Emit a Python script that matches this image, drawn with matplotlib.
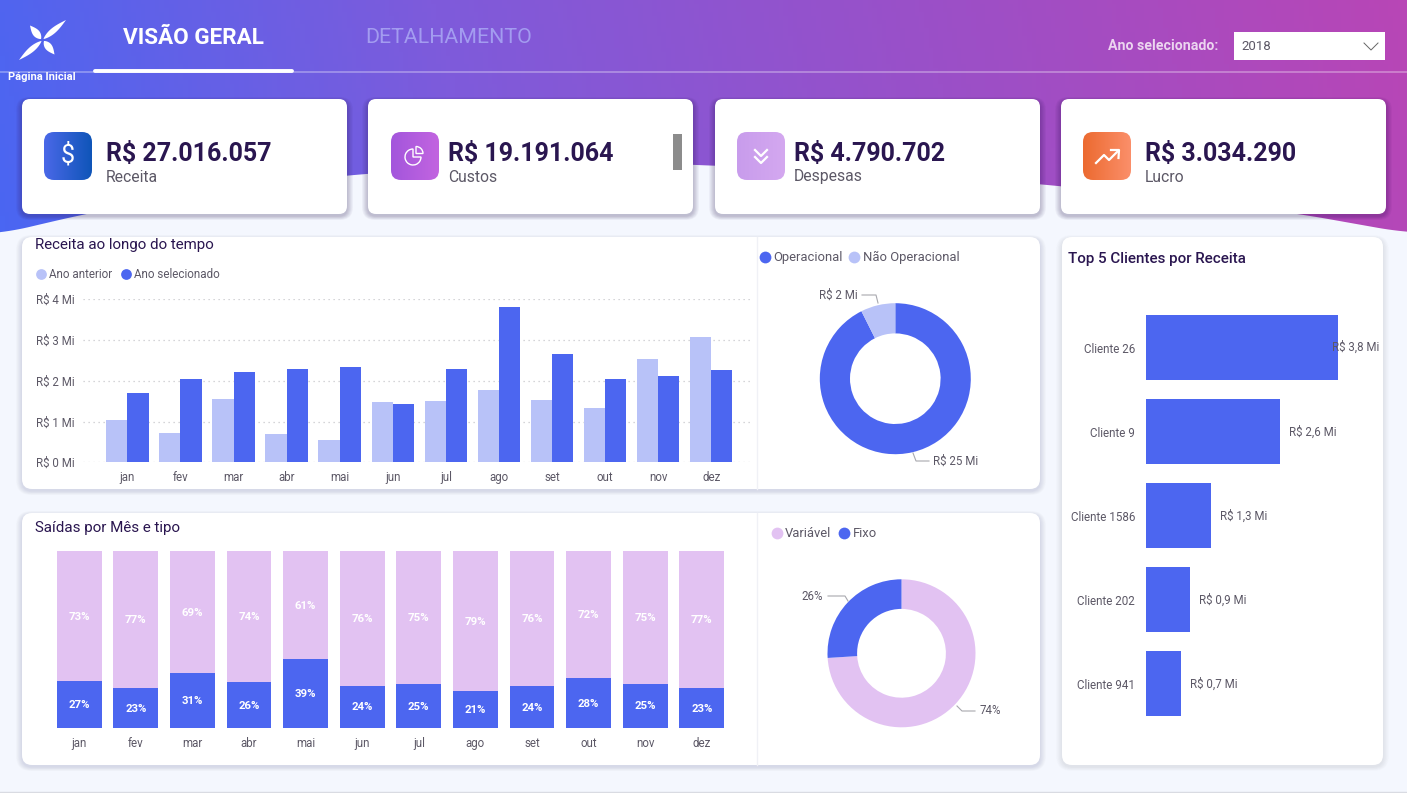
import numpy as np
import matplotlib
matplotlib.use('Agg')
import matplotlib.pyplot as plt
from matplotlib.colors import LinearSegmentedColormap
from matplotlib.patches import FancyBboxPatch, Polygon, Wedge

plt.rcParams['font.family'] = ['Roboto', 'DejaVu Sans']
plt.rcParams['ytick.alignment'] = 'center_baseline'

# Dados
meses = ['jan', 'fev', 'mar', 'abr', 'mai', 'jun', 'jul', 'ago', 'set', 'out', 'nov', 'dez']
ano_anterior = [1.04, 0.71, 1.55, 0.69, 0.54, 1.49, 1.50, 1.78, 1.53, 1.33, 2.53, 3.07]
ano_selecionado = [1.69, 2.05, 2.21, 2.30, 2.33, 1.43, 2.29, 3.82, 2.65, 2.05, 2.11, 2.26]
receita_ticks = [0, 1, 2, 3, 4]

fixo = [26.7, 22.9, 31.0, 26.1, 39.1, 24.1, 24.8, 21.0, 23.7, 28.4, 25.2, 22.6]
fixo_txt = [27, 23, 31, 26, 39, 24, 25, 21, 24, 28, 25, 23]
variavel_txt = [73, 77, 69, 74, 61, 76, 75, 79, 76, 72, 75, 77]

receita_tipo = [25, 2]
saida_tipo = [74, 26]

clientes = ['Cliente 26', 'Cliente 9', 'Cliente 1586', 'Cliente 202', 'Cliente 941']
clientes_valor = [3.80, 2.65, 1.29, 0.88, 0.70]
clientes_txt = ['R$ 3,8 Mi', 'R$ 2,6 Mi', 'R$ 1,3 Mi', 'R$ 0,9 Mi', 'R$ 0,7 Mi']

kpi_valor = ['R$ 27.016.057', 'R$ 19.191.064', 'R$ 4.790.702', 'R$ 3.034.290']
kpi_nome = ['Receita', 'Custos', 'Despesas', 'Lucro']

# Cores
AZUL = '#4c66f0'
AZUL_CLARO = '#b8c2f8'
LILAS = '#e2c2f2'
TITULO = '#2a1650'
CINZA = '#5c5866'
FUNDO = '#f4f7fe'

W, H = 1407, 793
fig = plt.figure(figsize=(W / 100, H / 100), dpi=100, facecolor=FUNDO)
bg = fig.add_axes([0, 0, 1, 1])
bg.axis('off')


def eixo(x0, y0, x1, y1):
    # eixo posicionado em pixels da imagem
    ax = fig.add_axes([x0 / W, 1 - y1 / H, (x1 - x0) / W, (y1 - y0) / H], zorder=2)
    ax.patch.set_alpha(0)
    return ax


def caixa(x0, y0, x1, y1, raio, cor, sombra=0.03, zorder=3):
    # sombra difusa feita com varias camadas
    for i in range(10, 0, -1):
        bg.add_patch(FancyBboxPatch((x0 - i * 0.6, y0 - i * 0.4 + 2), x1 - x0 + i * 1.2, y1 - y0 + i * 0.8,
                                    boxstyle=f'round,pad=0,rounding_size={raio + i * 0.5}',
                                    fc='#2a1650', ec='none', alpha=sombra, zorder=zorder))
    bg.add_patch(FancyBboxPatch((x0, y0), x1 - x0, y1 - y0, boxstyle=f'round,pad=0,rounding_size={raio}',
                                fc=cor, ec='none', zorder=zorder + 0.1))


# Fundo em degrade
gx, gy = np.meshgrid(np.linspace(0, W, 300), np.linspace(0, 240, 60))
grad = (gx + 0.25 * (240 - gy)) / (W + 60)
cmap_fundo = LinearSegmentedColormap.from_list('fundo', ['#4a66f2', '#7e5bdb', '#9a50c8', '#b846b6'])
bg.imshow(grad, extent=[0, W, 240, 0], cmap=cmap_fundo, aspect='auto', zorder=0)
bg.set_xlim(0, W)
bg.set_ylim(H, 0)

curva_x = [0, 50, 90, 200, 350, 500, 600, 700, 850, 1040, 1150, 1300, 1407]
curva_y = [234, 222, 213, 193, 175, 165, 162, 165, 172, 184, 196, 214, 233]
xs = np.linspace(0, W, 300)
ys = np.interp(xs, curva_x, curva_y)
ys = np.convolve(np.pad(ys, 6, mode='edge'), np.ones(13) / 13, mode='valid')
bg.add_patch(Polygon(np.vstack([np.c_[xs, ys], [[W, 245], [0, 245]]]), fc=FUNDO, ec='none', zorder=1))
bg.plot([0, W], [792, 792], color='#d9dbe2', lw=1, zorder=1)

# Cabecalho
bg.plot([0, W], [72, 72], color='white', alpha=0.3, lw=1.4, zorder=2)
bg.plot([95, 292], [71, 71], color='white', lw=2.8, solid_capstyle='round', zorder=2)
bg.text(123, 37.5, 'VISÃO GERAL', color='white', fontsize=16.2, fontweight='bold', va='center', zorder=4)
bg.text(365, 37.5, 'DETALHAMENTO', color='#a39cf0', fontsize=15.4, va='center', zorder=4)
bg.text(42, 77.5, 'Página Inicial', color='white', fontsize=8, fontweight='bold', ha='center', va='center', zorder=4)
bg.text(1218, 46, 'Ano selecionado:', color='#ecd5f0', fontsize=10.2, fontweight='bold', ha='right', va='center', zorder=4)
bg.add_patch(plt.Rectangle((1234, 32), 151, 28, fc='white', ec='none', zorder=3))
bg.text(1241, 46.5, '2018', color=CINZA, fontsize=9.5, va='center', zorder=4)
bg.plot([1364, 1371, 1378], [43, 50, 43], color='#666666', lw=0.7, zorder=4)


def folha(x0, y0, x1, y1, larg):
    t = np.linspace(0, 1, 30)
    esp = larg * np.sin(np.pi * t ** 0.8)
    dx, dy = x1 - x0, y1 - y0
    n = np.hypot(dx, dy)
    px, py = x0 + dx * t, y0 + dy * t
    lado1 = np.c_[px - dy / n * esp, py + dx / n * esp]
    lado2 = np.c_[px + dy / n * esp, py - dx / n * esp]
    bg.add_patch(Polygon(np.vstack([lado1, lado2[::-1]]), fc='white', ec='none', zorder=4))


folha(43.5, 39, 66, 20, 2.8)
folha(41.5, 41, 19, 60, 2.8)
folha(41, 39, 30, 25.5, 3.6)
folha(44, 41, 54.5, 54.5, 3.6)

# Cartoes KPI
cards = [(22, 347), (368, 693), (715, 1040), (1061, 1386)]
icones_x = [44, 391, 737, 1083]
texto_x = [106, 448, 794, 1145]
icones_cor = [('#4a68e8', '#0f55b8'), ('#a356dc', '#c264e0'), ('#c89cec', '#d4a8f0'), ('#ec6a30', '#fb8f6a')]
gx2 = np.linspace(0, 1, 64).reshape(1, -1)

for i in range(4):
    caixa(cards[i][0], 99, cards[i][1], 214, 8, 'white', sombra=0.028)
    x = icones_x[i]
    cm = LinearSegmentedColormap.from_list('ic', icones_cor[i])
    im = bg.imshow(gx2, extent=[x, x + 48, 180, 132], cmap=cm, aspect='auto', zorder=4)
    borda = FancyBboxPatch((x, 132), 48, 48, boxstyle='round,pad=0,rounding_size=10', fc='none', ec='none',
                           transform=bg.transData, zorder=4)
    bg.add_patch(borda)
    im.set_clip_path(borda)
    bg.text(texto_x[i], 153.5, kpi_valor[i], color=TITULO, fontsize=18, fontweight='bold', va='center', zorder=5)
    bg.text(texto_x[i], 177, kpi_nome[i], color=CINZA, fontsize=11.3, va='center', zorder=5)

bg.set_xlim(0, W)
bg.set_ylim(H, 0)

# Icones
bg.text(67.5, 155.5, '$', color='white', fontsize=18, ha='center', va='center', zorder=5)
bg.add_patch(Wedge((413, 157), 8, 0, 270, fc='none', ec='white', lw=1, zorder=5))
bg.add_patch(Wedge((416, 153.5), 7, 270, 360, fc='none', ec='white', lw=1, zorder=5))
for dy in (0, 7):
    bg.plot([755, 761, 767], [150 + dy, 156 + dy, 150 + dy], color='white', lw=1.6, zorder=5)
bg.plot([1096, 1104, 1109, 1118], [163, 155, 160, 151], color='white', lw=1.6, zorder=5)
bg.plot([1111, 1119, 1118.5], [150, 150, 158], color='white', lw=1.6, zorder=5)
bg.add_patch(plt.Rectangle((673, 134), 9, 36, fc='#8c8c8c', ec='none', zorder=5))

# Paineis
caixa(22, 237, 1040, 489, 10, 'white', sombra=0.012)
caixa(22, 513, 1040, 765, 10, 'white', sombra=0.012)
caixa(1062, 237, 1383, 765, 10, 'white', sombra=0.009)
bg.plot([757, 757], [237, 489], color='#f0f1f6', lw=1, zorder=4)
bg.plot([757, 757], [513, 765], color='#f0f1f6', lw=1, zorder=4)

bg.text(35, 245, 'Receita ao longo do tempo', color=TITULO, fontsize=10.9, va='center', zorder=5)
bg.text(35, 528, 'Saídas por Mês e tipo', color=TITULO, fontsize=10.9, va='center', zorder=5)
bg.text(1068, 259, 'Top 5 Clientes por Receita', color=TITULO, fontsize=10.9, fontweight='medium', va='center', zorder=5)


def legenda(itens, y, tam, fonte):
    for cx, tx, cor, nome in itens:
        bg.scatter([cx], [y], s=tam, color=cor, linewidths=0, zorder=5)
        bg.text(tx, y + 0.5, nome, color=CINZA, fontsize=fonte, va='center', zorder=5)


legenda([(41, 49, AZUL_CLARO, 'Ano anterior'), (126, 134, AZUL, 'Ano selecionado')], 274, 60, 8.4)
legenda([(765, 773, AZUL, 'Operacional'), (854, 863, AZUL_CLARO, 'Não Operacional')], 257, 72, 9.4)
legenda([(777, 785, LILAS, 'Variável'), (844, 853, AZUL, 'Fixo')], 533, 72, 9.4)

# Receita ao longo do tempo
ax1 = eixo(83, 299.3, 752, 462.3)
pos = np.arange(12)
ax1.bar(pos - 0.2, ano_anterior, 0.4, color=AZUL_CLARO)
ax1.bar(pos + 0.2, ano_selecionado, 0.4, color=AZUL)
ax1.set_xlim(-0.837, 11.77)
ax1.set_ylim(0, 4)
ax1.set_xticks(pos, meses)
ax1.set_yticks(receita_ticks, [f'R$ {v} Mi' for v in receita_ticks])
ax1.tick_params(length=0, labelsize=8.3, labelcolor=CINZA)
ax1.tick_params(axis='x', pad=6.5)
ax1.tick_params(axis='y', pad=6)
ax1.grid(axis='y', color='#c8c8cc', linestyle=(0, (1, 3)), linewidth=0.9)
ax1.set_axisbelow(True)
for s in ax1.spines.values():
    s.set_visible(False)

# Saidas por mes e tipo
ax2 = eixo(35, 551, 740, 728.3)
variavel = [100 - f for f in fixo]
ax2.bar(pos, fixo, 0.79, color=AZUL)
ax2.bar(pos, variavel, 0.79, bottom=fixo, color=LILAS)
for i in range(12):
    ax2.text(i, fixo[i] / 2 - 0.3, f'{fixo_txt[i]}%', color='white', fontsize=8.2, fontweight='bold', ha='center', va='center')
    ax2.text(i, fixo[i] + variavel[i] / 2 - 0.3, f'{variavel_txt[i]}%', color='white', fontsize=8.2, fontweight='bold',
             ha='center', va='center')
ax2.set_xlim((35 - 79.2) / 56.6, (740 - 79.2) / 56.6)
ax2.set_ylim(0, 100)
ax2.set_xticks(pos, meses)
ax2.set_yticks([])
ax2.tick_params(length=0, labelsize=8.3, labelcolor=CINZA, pad=6)
for s in ax2.spines.values():
    s.set_visible(False)

# Rosca receita
ax3 = eixo(895.3 - 75.5, 378.7 - 75.5, 895.3 + 75.5, 378.7 + 75.5)
ax3.pie(receita_tipo, colors=[AZUL, AZUL_CLARO], startangle=90, counterclock=False, radius=1,
        wedgeprops={'width': 0.4})
ax3.set_xlim(-1, 1)
ax3.set_ylim(-1, 1)
bg.plot([862, 876, 878], [295, 295, 303], color='#a8a8ae', lw=0.8, zorder=5)
bg.text(858, 295.5, 'R$ 2 Mi', color=CINZA, fontsize=8.3, ha='right', va='center', zorder=5)
bg.plot([929, 916, 913], [461, 461, 453], color='#a8a8ae', lw=0.8, zorder=5)
bg.text(933, 461.5, 'R$ 25 Mi', color=CINZA, fontsize=8.3, va='center', zorder=5)

# Rosca saidas
ax4 = eixo(901.5 - 74, 653.3 - 74, 901.5 + 74, 653.3 + 74)
ax4.pie(saida_tipo, colors=[LILAS, AZUL], startangle=90, counterclock=False, radius=1,
        wedgeprops={'width': 0.4})
ax4.set_xlim(-1, 1)
ax4.set_ylim(-1, 1)
bg.plot([828, 845, 848], [596, 596, 601], color='#a8a8ae', lw=0.8, zorder=5)
bg.text(823, 596.5, '26%', color=CINZA, fontsize=8.3, ha='right', va='center', zorder=5)
bg.plot([975, 962, 957], [711, 711, 706], color='#a8a8ae', lw=0.8, zorder=5)
bg.text(980, 710.5, '74%', color=CINZA, fontsize=8.3, va='center', zorder=5)

# Top 5 clientes
ax5 = eixo(1145.5, 305.5, 1380, 726)
pos5 = np.arange(5)
ax5.barh(pos5, clientes_valor, 0.773, color=AZUL)
ax5.set_xlim(0, (1380 - 1145.5) / 50.66)
ax5.set_ylim(4.5, -0.5)
ax5.set_yticks(pos5, clientes)
ax5.set_xticks([])
ax5.tick_params(length=0, labelsize=8.4, labelcolor=CINZA, pad=7.5)
for i, v in enumerate(clientes_valor):
    # o maior rotulo nao cabe e fica por cima da barra
    off = -6 if v == max(clientes_valor) else 9
    ax5.annotate(clientes_txt[i], (v, i), xytext=(off * 0.72, 0), textcoords='offset points', color=CINZA,
                 fontsize=8.3, va='center', annotation_clip=False)
for s in ax5.spines.values():
    s.set_visible(False)

fig.savefig('out.png', dpi=100, facecolor=FUNDO)
